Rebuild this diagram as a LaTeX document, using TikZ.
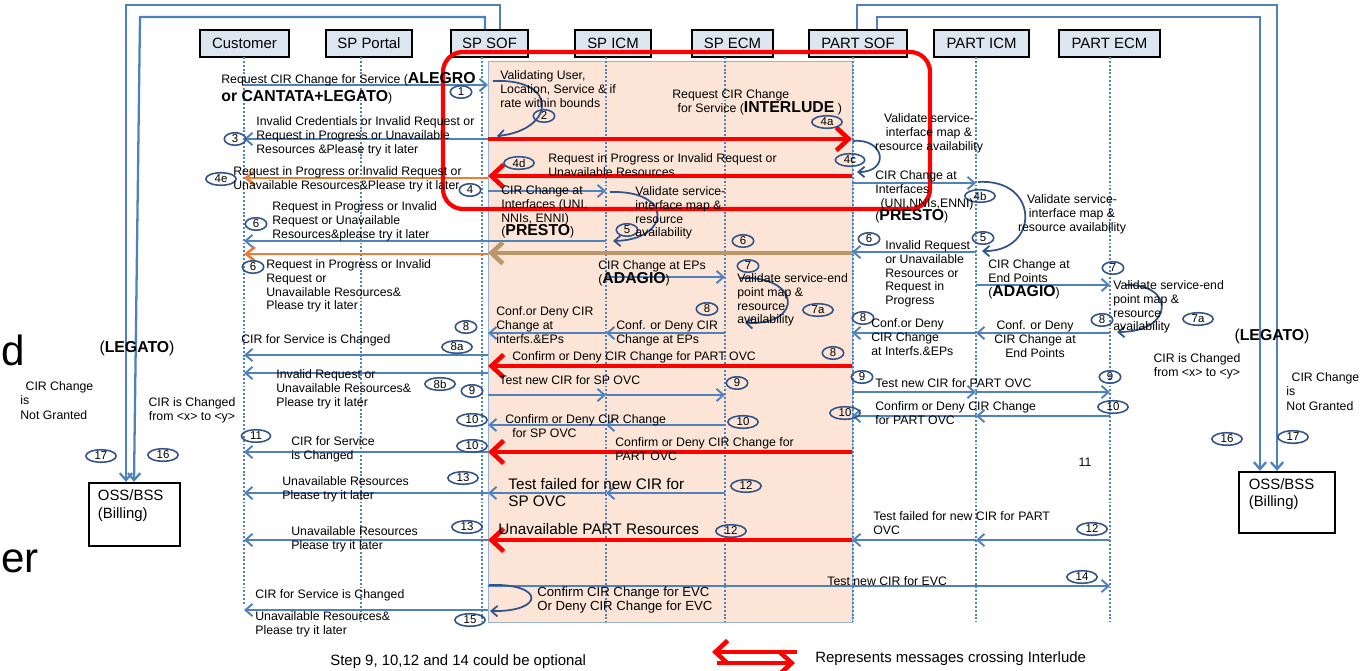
\documentclass[tikz,border=0pt]{standalone}
\usepackage{fontspec}
\setmainfont{Liberation Sans}
\usetikzlibrary{positioning}
\usetikzlibrary{shapes.geometric, arrows.meta}

\definecolor{msgblue}{RGB}{79,129,189}
\definecolor{numblue}{RGB}{50,84,138}
\definecolor{headfill}{RGB}{220,230,241}
\definecolor{zonefill}{RGB}{252,229,214}
\definecolor{msgorange}{RGB}{237,125,49}
\definecolor{msgbrown}{RGB}{186,150,104}

\newcommand{\keyw}[1]{{\fontsize{9}{9}\selectfont\bfseries #1}}

\tikzset{
  actor/.style={draw=black, line width=1.3pt, fill=headfill, minimum height=0.54cm, inner sep=0pt, font=\fontsize{8.5}{10}\selectfont},
  life/.style={msgblue, line width=1.1pt, dash pattern=on 1.1pt off 1.1pt},
  msg/.style={msgblue, line width=1.1pt, -{Straight Barb[length=4pt,width=7pt]}},
  cross/.style={red, line width=2.6pt, -{Straight Barb[length=7pt,width=13pt]}},
  reply/.style={msgorange, line width=1.5pt, -{Straight Barb[length=5pt,width=8pt]}},
  back/.style={msgbrown, line width=2.6pt, -{Straight Barb[length=6.5pt,width=12pt]}},
  selfloop/.style={numblue, line width=1pt, -{Straight Barb[length=3.5pt,width=6pt]}},
  num/.style={ellipse, draw=numblue, line width=0.9pt, inner xsep=2.5pt, inner ysep=0pt, minimum width=0.38cm, minimum height=0.25cm, font=\fontsize{6.5}{7}\selectfont},
  txt/.style={anchor=north west, align=left, inner sep=0pt, font=\fontsize{7}{7.9}\selectfont},
  ctxt/.style={anchor=north, align=center, inner sep=0pt, font=\fontsize{7}{7.9}\selectfont},
  bigtxt/.style={anchor=north west, align=left, inner sep=0pt, font=\fontsize{8.7}{9.6}\selectfont},
  oss/.style={draw=black, line width=1.3pt, inner sep=0pt},
  feed/.style={msgblue, line width=1.3pt, -{Straight Barb[length=4pt,width=7pt]}},
}

\begin{document}
\begin{tikzpicture}[x=0.02cm,y=-0.02cm]
\useasboundingbox (0,0) rectangle (1371,671);

% shaded interlude zone
\node[draw=msgblue!60, line width=0.4pt, fill=zonefill, minimum width=7.28cm, minimum height=11.22cm, inner sep=0pt, outer sep=0pt] (zone) at (670,341.5) {};

% actors
\node[actor, minimum width=1.78cm] (cust) at (244.5,43.5) {Customer};
\node[actor, minimum width=1.72cm] (portal) at (369,43.5) {SP Portal};
\node[actor, minimum width=1.54cm] (spsof) at (489.5,43.5) {SP SOF};
\node[actor, minimum width=1.52cm] (spicm) at (613,43.5) {SP ICM};
\node[actor, minimum width=1.62cm] (specm) at (732.5,43.5) {SP ECM};
\node[actor, minimum width=1.96cm] (partsof) at (858,43.5) {PART SOF};
\node[actor, minimum width=1.90cm] (particm) at (981.5,43.5) {PART ICM};
\node[actor, minimum width=2.02cm] (partecm) at (1109.5,43.5) {PART ECM};

% lifelines
\coordinate (lcu) at (244,57);
\coordinate (lpo) at (361,57);
\coordinate (lso) at (482,57);
\coordinate (lic) at (606,57);
\coordinate (lec) at (725,57);
\coordinate (lps) at (853,57);
\coordinate (lpi) at (976,57);
\coordinate (lpe) at (1110,57);
\draw[life] (lcu) -- (lcu |- 0,605);
\draw[life] (lpo) -- (lpo |- 0,622);
\draw[life] (lso) -- (lso |- 0,622);
\draw[life] (lic) -- (lic |- 0,622);
\draw[life] (lec) -- (lec |- 0,622);
\draw[life] (lps) -- (lps |- 0,622);
\draw[life] (lpi) -- (lpi |- 0,622);
\draw[life] (lpe) -- (lpe |- 0,622);

% billing boxes and feeds
\node[oss, minimum width=1.82cm, minimum height=1.26cm] (ossL) at (134.5,514.5) {};
\node[oss, minimum width=1.92cm, minimum height=1.22cm] (ossR) at (1287,502.5) {};
\node[txt, font=\fontsize{8.5}{10}\selectfont, below right=4.5pt and 5.5pt of ossL.north west] (ossLt) {OSS/BSS\\(Billing)};
\node[txt, font=\fontsize{8.5}{10}\selectfont, below right=4pt and 6pt of ossR.north west] (ossRt) {OSS/BSS\\(Billing)};
\draw[feed] (spsof.north -| 500,0) |- (126,5) -- (ossL.north -| 126,0);
\draw[feed] (spsof.north -| 485,0) |- (140,17) -- (ossL.north -| 134,0);
\draw[feed] (partsof.north -| 857,0) |- (1277,5) -- (ossR.north -| 1277,0);
\draw[feed] (partsof.north -| 877,0) |- (1260,17) -- (ossR.north -| 1260,0);

% messages
\draw[msg] (lcu |- 0,85) -- (zone.west |- 0,85);
\draw[selfloop] (493,81) .. controls (560,78) and (555,130) .. (497,136);
\draw[msg] (zone.west |- 0,139) -- (lcu |- 0,139);
\draw[cross] (zone.west |- 0,139) -- (zone.east |- 0,139);
\draw[selfloop] (853,141) .. controls (885,138) and (890,172) .. (857,172);
\draw[cross] (zone.east |- 0,176) -- (zone.west |- 0,176);
\draw[reply] (zone.west |- 0,178) -- (lcu |- 0,178);
\draw[msg] (zone.west |- 0,191) -- (lic |- 0,191);
\draw[msg] (zone.east |- 0,183) -- (lpi |- 0,183);
\draw[selfloop] (610,192) .. controls (675,190) and (670,240) .. (613,241);
\draw[selfloop] (978,182) .. controls (1040,178) and (1040,252) .. (982,251);
\draw[msg] (lic |- 0,241) -- (lcu |- 0,241);
\draw[msg] (lpi |- 0,252) -- (zone.east |- 0,252);
\draw[back] (zone.east |- 0,253) -- (zone.west |- 0,253);
\draw[reply] (zone.west |- 0,254) -- (lcu |- 0,254);
\draw[msg] (lic |- 0,277) -- (lec |- 0,277);
\draw[selfloop] (740,278) .. controls (800,275) and (805,325) .. (745,323);
\draw[msg] (lpi |- 0,285) -- (lpe |- 0,285);
\draw[selfloop] (1125,285) .. controls (1175,283) and (1175,332) .. (1117,332);
\draw[msg] (lpe |- 0,333) -- (lpi |- 0,333);
\draw[msg] (lpi |- 0,333) -- (zone.east |- 0,333);
\draw[msg] (lec |- 0,333) -- (lic |- 0,333);
\draw[msg] (lic |- 0,333) -- (zone.west |- 0,333);
\draw[msg] (zone.west |- 0,355) -- (lcu |- 0,355);
\draw[cross] (zone.east |- 0,366) -- (zone.west |- 0,366);
\draw[msg] (zone.west |- 0,373) -- (lcu |- 0,373);
\draw[msg] (zone.west |- 0,395) -- (lic |- 0,395);
\draw[msg] (lic |- 0,395) -- (lec |- 0,395);
\draw[msg] (zone.east |- 0,392) -- (lpi |- 0,392);
\draw[msg] (lpi |- 0,392) -- (lpe |- 0,392);
\draw[msg] (lpe |- 0,416) -- (lpi |- 0,416);
\draw[msg] (lpi |- 0,416) -- (zone.east |- 0,416);
\draw[msg] (lec |- 0,425) -- (lic |- 0,425);
\draw[msg] (lic |- 0,425) -- (zone.west |- 0,425);
\draw[cross] (zone.east |- 0,452) -- (zone.west |- 0,452);
\draw[msg] (zone.west |- 0,452) -- (lcu |- 0,452);
\draw[msg] (lec |- 0,493) -- (lic |- 0,493);
\draw[msg] (lic |- 0,493) -- (zone.west |- 0,493);
\draw[msg] (zone.west |- 0,493) -- (lcu |- 0,493);
\draw[cross] (zone.east |- 0,540) -- (zone.west |- 0,540);
\draw[msg] (lpe |- 0,540) -- (lpi |- 0,540);
\draw[msg] (lpi |- 0,540) -- (zone.east |- 0,540);
\draw[msg] (zone.west |- 0,540) -- (lcu |- 0,540);
\draw[msg] (zone.west |- 0,586) -- (lpe |- 0,586);
\draw[selfloop] (489,585) .. controls (545,583) and (545,612) .. (490,611);
\draw[msg] (zone.west |- 0,610) -- (lcu |- 0,610);

% messages crossing interlude
\draw[red, line width=2.4pt, rounded corners=0.4cm] (443,52) rectangle (930,209);

% step numbers
\node[num] (n1) at (461,92) {1};
\node[num] (n2) at (544,116) {2};
\node[num] (n3) at (235,139) {3};
\node[num] (n4a) at (827,122) {4a};
\node[num] (n4c) at (850,160) {4c};
\node[num] (n4d) at (519,163) {4d};
\node[num] (n4e) at (221,179) {4e};
\node[num] (n4) at (470,190) {4};
\node[num] (n4b) at (980,196) {4b};
\node[num] (n5a) at (627,230) {5};
\node[num] (n5b) at (983,238) {5};
\node[num] (n6a) at (256,224) {6};
\node[num] (n6b) at (743,241) {6};
\node[num] (n6c) at (869,239) {6};
\node[num] (n6d) at (253,267) {6};
\node[num] (n7a) at (748,266) {7};
\node[num] (n7b) at (1113,268) {7};
\node[num] (n7c) at (818,310) {7a};
\node[num] (n7d) at (1198,319) {7a};
\node[num] (n8a) at (707,309) {8};
\node[num] (n8b) at (466,327) {8};
\node[num] (n8c) at (1102,320) {8};
\node[num] (n8d) at (863,318) {8};
\node[num] (n8e) at (833,353) {8};
\node[num] (n8f) at (457,347) {8a};
\node[num] (n8g) at (440,384) {8b};
\node[num] (n9a) at (472,391) {9};
\node[num] (n9b) at (737,383) {9};
\node[num] (n9c) at (862,377) {9};
\node[num] (n9d) at (1110,377) {9};
\node[num] (n10a) at (1113,407) {10};
\node[num] (n10b) at (845,413) {10};
\node[num] (n10c) at (743,422) {10};
\node[num] (n10d) at (472,420) {10};
\node[num] (n10e) at (472,446) {10};
\node[num] (n11) at (256,436) {11};
\node[num] (n12a) at (746,486) {12};
\node[num] (n12b) at (731,531) {12};
\node[num] (n12c) at (1092,529) {12};
\node[num] (n13a) at (463,478) {13};
\node[num] (n13b) at (467,527) {13};
\node[num] (n14) at (1082,577) {14};
\node[num] (n15) at (470,620) {15};
\node[num] (n16a) at (163,455) {16};
\node[num] (n17a) at (101,456) {17};
\node[num] (n16b) at (1227,439) {16};
\node[num] (n17b) at (1293,437) {17};

% message texts
\node[txt] (t1) at (221,72) {Request CIR Change for Service (\keyw{ALEGRO}\\[2.5pt]\keyw{or CANTATA+LEGATO})};
\node[txt] (t2) at (500,70) {Validating User,\\Location, Service \& if\\rate within bounds};
\node[txt] (t3) at (256,116) {Invalid Credentials or Invalid Request or\\Request in Progress or Unavailable\\Resources \&Please try it later};
\node[txt] (t4a) at (672,89) {Request CIR Change\\\hspace{3pt}for Service (\keyw{INTERLUDE} )};
\node[ctxt] (t4c) at (929,113) {Validate service-\\interface map \&\\resource availability};
\node[txt] (t4d) at (548,153) {Request in Progress or Invalid Request or\\Unavailable Resources};
\node[txt] (t4e) at (233,166) {Request in Progress or Invalid Request or\\Unavailable Resources\&Please try it later};
\node[txt] (t4) at (501,185) {CIR Change at\\Interfaces (UNI,\\NNIs, ENNI)\\(\keyw{PRESTO})};
\node[txt] (t5) at (635,186) {Validate service-\\interface map \&\\resource\\availability};
\node[txt] (t6a) at (272,201) {Request in Progress or Invalid\\Request or Unavailable\\Resources\&please try it later};
\node[txt] (t4b) at (875,170) {CIR Change at\\Interfaces\\\hspace{3pt}(UNI,NNIs,ENNI)\\(\keyw{PRESTO})};
\node[ctxt] (t5b) at (1072,194) {Validate service-\\interface map \&\\resource availability};
\node[txt] (t6c) at (885,240) {Invalid Request\\or Unavailable\\Resources or\\Request in\\Progress};
\node[txt] (t6d) at (266,259) {Request in Progress or Invalid\\Request or\\Unavailable Resources\&\\Please try it later};
\node[txt] (t7) at (598,260) {CIR Change at EPs\\(\keyw{ADAGIO})};
\node[txt] (t7b) at (737,273) {Validate service-end\\point map \&\\resource\\availability};
\node[txt] (t7c) at (988,259) {CIR Change at\\End Points\\(\keyw{ADAGIO})};
\node[txt] (t7d) at (1113,280) {Validate service-end\\point map \&\\resource\\availability};
\node[ctxt] (t8a) at (1035,320) {Conf. or Deny\\CIR Change at\\End Points};
\node[txt] (t8b) at (871,318) {Conf.or Deny\\CIR Change\\at Interfs.\&EPs};
\node[txt] (t8c) at (616,320) {Conf. or Deny CIR\\Change at EPs};
\node[txt] (t8d) at (496,306) {Conf.or Deny CIR\\Change at\\interfs.\&EPs};
\node[txt] (t8e) at (512,351) {Confirm or Deny CIR Change for PART OVC};
\node[txt] (t8f) at (241,334) {CIR for Service is Changed};
\node[txt] (t8g) at (276,369) {Invalid Request or\\Unavailable Resources\&\\Please try it later};
\node[txt] (t9a) at (499,375) {Test new CIR for SP OVC};
\node[txt] (t9b) at (875,378) {Test new CIR for PART OVC};
\node[txt] (t10a) at (875,401) {Confirm or Deny CIR Change\\for PART OVC};
\node[txt] (t10b) at (505,414) {Confirm or Deny CIR Change\\\hspace{4pt}for SP OVC};
\node[txt] (t10c) at (615,437) {Confirm or Deny CIR Change for\\PART OVC};
\node[txt] (t11) at (291,436) {CIR for Service\\is Changed};
\node[bigtxt] (t12a) at (508,478) {Test failed for new CIR for\\SP OVC};
\node[txt] (t13a) at (282,476) {Unavailable Resources\\Please try it later};
\node[bigtxt] (t12b) at (498,523) {Unavailable PART Resources};
\node[txt] (t12c) at (873,511) {Test failed for new CIR for PART\\OVC};
\node[txt] (t13b) at (291,526) {Unavailable Resources\\Please try it later};
\node[txt] (t14) at (827,576) {Test new CIR for EVC};
\node[txt, font=\fontsize{7.5}{7.9}\selectfont] (t15) at (537,587) {Confirm CIR Change for EVC\\Or Deny CIR Change for EVC};
\node[txt] (t15b) at (255,589) {CIR for Service is Changed};
\node[txt] (t15c) at (255,611) {Unavailable Resources\&\\Please try it later};

% outer notes
\node[inner sep=0pt, font=\fontsize{9}{9}\selectfont] (legL) at (137,348) {(\textbf{LEGATO})};
\node[inner sep=0pt, font=\fontsize{9}{9}\selectfont] (legR) at (1272,336) {(\textbf{LEGATO})};
\node[txt, font=\fontsize{7}{8.2}\selectfont] (ngL) at (20,381) {\hspace*{3pt}CIR Change\\is\\Not Granted};
\node[txt, font=\fontsize{7}{8.2}\selectfont] (ngR) at (1286,372) {\hspace*{3pt}CIR Change\\is\\Not Granted};
\node[ctxt] (chL) at (192,397) {CIR is Changed\\from <x> to <y>};
\node[ctxt] (chR) at (1197,353) {CIR is Changed\\from <x> to <y>};
\node[inner sep=0pt, font=\fontsize{7}{8}\selectfont] (s11) at (1085,462) {11};
\node[anchor=base west, inner sep=0pt, font=\fontsize{24}{24}\selectfont] (frag1) at (1,366) {d};
\node[anchor=base west, inner sep=0pt, font=\fontsize{24}{24}\selectfont] (frag2) at (1,572) {er};

% legend
\node[txt, font=\fontsize{8.5}{10}\selectfont] (note) at (330,654) {Step 9, 10,12 and 14 could be optional};
\coordinate (lgA) at (797,652);
\coordinate (lgB) at (712,652);
\coordinate (lgC) at (717,663);
\coordinate (lgD) at (795,663);
\draw[cross] (lgA) -- (lgB);
\draw[cross] (lgC) -- (lgD);
\node[txt, font=\fontsize{8.5}{10}\selectfont] (legend) at (815,651) {Represents messages crossing Interlude};

\end{tikzpicture}
\end{document}
